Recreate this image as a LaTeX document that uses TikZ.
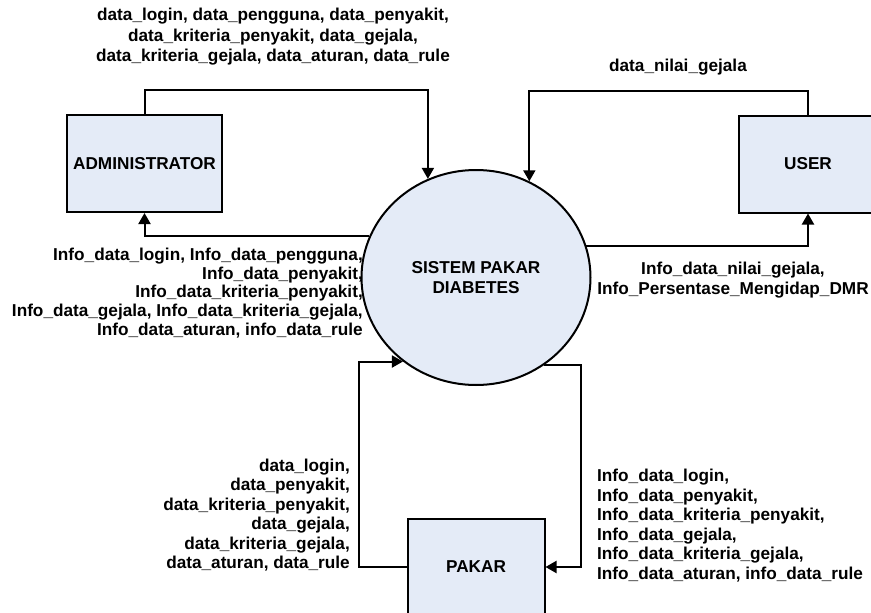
\documentclass[tikz,border=0pt]{standalone}
\usepackage{fontspec}
\setmainfont{Liberation Sans}
\usetikzlibrary{arrows.meta,shapes.geometric}
\definecolor{procfill}{RGB}{228,235,247}

\begin{document}
\begin{tikzpicture}[x=1pt,y=-1pt,
  every node/.style={inner sep=0pt,font=\fontsize{17.2}{19.5}\selectfont\bfseries},
  entity/.style={draw,line width=2pt,fill=procfill,minimum width=155pt,minimum height=97pt},
  proc/.style={ellipse,draw,line width=2pt,fill=procfill,minimum width=229pt,minimum height=215pt},
  flow/.style={line width=2pt,-{Triangle[length=11pt,width=12pt]}}]
\clip (0,0) rectangle (871,613);
\node[entity] (admin) at (144.5,163.5) {ADMINISTRATOR};
\node[entity,minimum width=138pt] (user) at (808,164) {USER};
\node[entity,minimum width=137pt] (pakar) at (476,567) {PAKAR};
\node[proc,align=center] (sys) at (476,277.5) {SISTEM PAKAR\\DIABETES};
\draw[flow] (admin.north) -- ++(0,-24) -| (sys.116.8);
\draw[flow] (sys.159) -| (admin.south);
\draw[flow] (user.north) -- ++(0,-24) -| (sys.61.4);
\draw[flow] (sys.16.2) -| (user.south);
\draw[flow] (pakar.west) -- ++(-48,0) |- (sys.229.8);
\draw[flow] (sys.308) -- ++(37,0) |- (pakar.east);
\node[align=center,font=\fontsize{17.2}{20.5}\selectfont\bfseries] (adminIn) at (273,37) {data\_login, data\_pengguna, data\_penyakit,\\data\_kriteria\_penyakit, data\_gejala,\\data\_kriteria\_gejala, data\_aturan, data\_rule};
\node[align=right,anchor=east,font=\fontsize{17.2}{18.8}\selectfont\bfseries] (adminOut) at (363,293) {Info\_data\_login, Info\_data\_pengguna,\\Info\_data\_penyakit,\\Info\_data\_kriteria\_penyakit,\\Info\_data\_gejala, Info\_data\_kriteria\_gejala,\\Info\_data\_aturan, info\_data\_rule};
\node (userIn) at (678,67) {data\_nilai\_gejala};
\node[align=center] (userOut) at (733,280) {Info\_data\_nilai\_gejala,\\Info\_Persentase\_Mengidap\_DMR};
\node[align=right,anchor=east] (pakarIn) at (350,515) {data\_login,\\data\_penyakit,\\data\_kriteria\_penyakit,\\data\_gejala,\\data\_kriteria\_gejala,\\data\_aturan, data\_rule};
\node[align=left,anchor=west] (pakarOut) at (597,525.5) {Info\_data\_login,\\Info\_data\_penyakit,\\Info\_data\_kriteria\_penyakit,\\Info\_data\_gejala,\\Info\_data\_kriteria\_gejala,\\Info\_data\_aturan, info\_data\_rule};
\end{tikzpicture}
\end{document}
